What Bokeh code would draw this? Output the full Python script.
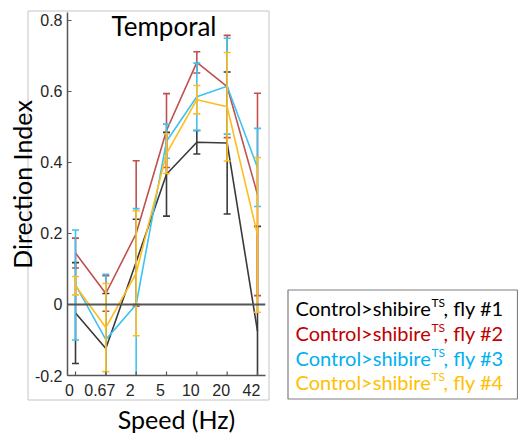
from math import pi

from bokeh.core.properties import value
from bokeh.embed import file_html
from bokeh.layouts import column
from bokeh.models import FixedTicker, GridBox, LinearAxis, Range1d, Span
from bokeh.plotting import figure
from bokeh.resources import INLINE

# Stimulus speeds (Hz), one category per tick
speeds = ["0", "0.67", "2", "5", "10", "20", "42"]

# Direction index per fly: mean and error (half-length of the bar)
fly1_mean = [-0.024, -0.124, 0.120, 0.367, 0.457, 0.455, -0.075]
fly1_err = [0.142, 0.155, 0.120, 0.118, 0.033, 0.200, 0.295]
fly2_mean = [0.145, 0.031, 0.200, 0.490, 0.682, 0.614, 0.310]
fly2_err = [0.042, 0.050, 0.205, 0.104, 0.030, 0.144, 0.285]
fly3_mean = [0.055, -0.099, 0.000, 0.460, 0.585, 0.615, 0.386]
fly3_err = [0.155, 0.184, 0.270, 0.048, 0.095, 0.135, 0.110]
fly4_mean = [0.053, -0.065, 0.088, 0.425, 0.577, 0.557, 0.196]
fly4_err = [0.026, 0.124, 0.176, 0.056, 0.040, 0.153, 0.218]

legend_main = ["Control>shibire"] * 4
legend_sup = ["TS"] * 4
legend_suffix = [", fly #1", ", fly #2", ", fly #3", ", fly #4"]

y_ticks = [-0.2, 0, 0.2, 0.4, 0.6, 0.8]
y_tick_labels = ["-0.2", "0", "0.2", "0.4", "0.6", "0.8"]

line_colors = ["#3a3a3a", "#c0504d", "#3ec3f0", "#ffbc1f"]
text_colors = ["#000000", "#c00000", "#00b0f0", "#ffc000"]

W, H = 518, 434
FRAME_L, FRAME_R, FRAME_T, FRAME_B = 67, 265, 12, 375
X_LO, X_HI = -0.264, 6.264
LABEL_SHIFT = 0.198  # tick labels sit a little left of their ticks

# ---------------------------------------------------------------- background
# A full-canvas sheet in pixel units for the panel border, titles and legend.
bg = figure(
    width=W, height=H, output_backend="svg", toolbar_location=None,
    x_range=Range1d(0, W), y_range=Range1d(0, H),
    x_axis_location=None, y_axis_location=None,
    min_border=0, min_border_left=0, min_border_right=0,
    min_border_top=0, min_border_bottom=0,
)
bg.outline_line_color = None
bg.grid.visible = False
bg.background_fill_color = "white"
bg.border_fill_color = "white"


def py(y):
    return H - y


# panel border around the axes
bg.quad(left=[27.5], right=[268.5], top=[py(10.5)], bottom=[py(399.5)],
        fill_color=None, line_color="#c4c4c4", line_width=1)

bg.text(x=[163.5], y=[py(25)], text=["Temporal"], text_align="center",
        text_baseline="middle", text_font=value("Lato"),
        text_font_size=value("26px"), text_color="black")
bg.text(x=[176], y=[py(418)], text=["Speed (Hz)"], text_align="center",
        text_baseline="middle", text_font=value("Lato"),
        text_font_size=value("25px"), text_color="black")
bg.text(x=[21], y=[py(184)], text=["Direction Index"], angle=pi / 2,
        text_align="center", text_baseline="middle", text_font=value("Lato"),
        text_font_size=value("25px"), text_color="black")

# legend
bg.quad(left=[287.5], right=[517], top=[py(289.5)], bottom=[py(398.5)],
        fill_color=None, line_color="#7f7f7f", line_width=1.2)
row_y = [307, 332, 357, 381]
main_x, sup_x, suf_x = 295, 431, 443
bg.text(x=[main_x] * 4, y=[py(v) for v in row_y], text=legend_main,
        text_color=text_colors, text_align="left", text_baseline="middle",
        text_font=value("Lato"), text_font_size=value("20px"))
bg.text(x=[sup_x] * 4, y=[py(v - 5) for v in row_y], text=legend_sup,
        text_color=text_colors, text_align="left", text_baseline="middle",
        text_font=value("Lato"), text_font_size=value("12px"))
bg.text(x=[suf_x] * 4, y=[py(v) for v in row_y], text=legend_suffix,
        text_color=text_colors, text_align="left", text_baseline="middle",
        text_font=value("Lato"), text_font_size=value("20px"))

# ---------------------------------------------------------------- chart
p = figure(
    width=W, height=H, output_backend="svg", toolbar_location=None,
    x_range=Range1d(X_LO, X_HI), y_range=Range1d(-0.2, 0.8225),
    x_axis_location=None,
    min_border_left=FRAME_L, min_border_right=W - FRAME_R,
    min_border_top=FRAME_T, min_border_bottom=H - FRAME_B,
)
p.outline_line_color = None
p.grid.visible = False
p.background_fill_color = None
p.border_fill_color = None
p.extra_x_ranges = {"labels": Range1d(X_LO + LABEL_SHIFT, X_HI + LABEL_SHIFT)}

xs = list(range(len(speeds)))
series = [
    (fly1_mean, fly1_err),
    (fly2_mean, fly2_err),
    (fly3_mean, fly3_err),
    (fly4_mean, fly4_err),
]
for (means, errs), col in zip(series, line_colors):
    lo = [m - e for m, e in zip(means, errs)]
    hi = [m + e for m, e in zip(means, errs)]
    p.line(xs, means, line_color=col, line_width=1.6)
    p.segment(x0=xs, y0=lo, x1=xs, y1=hi, line_color=col, line_width=1.6)
    p.scatter(xs, lo, marker="dash", size=7, line_color=col, line_width=1.6)
    p.scatter(xs, hi, marker="dash", size=7, line_color=col, line_width=1.6)

# zero reference line
p.add_layout(Span(location=0, dimension="width", line_color="#555555", line_width=2))

axis_col = "#555555"

# x axis: line and labels; the inward ticks are drawn at the category positions
xax = LinearAxis(x_range_name="labels", ticker=FixedTicker(ticks=xs),
                 major_label_overrides={i: s for i, s in enumerate(speeds)})
xax.axis_line_color = axis_col
xax.axis_line_width = 1.5
xax.major_tick_line_color = None
xax.minor_tick_line_color = None
xax.major_tick_in = 0
xax.major_tick_out = 0
xax.major_label_standoff = 8
xax.major_label_text_font = "Liberation Sans"
xax.major_label_text_font_size = "16px"
xax.major_label_text_color = "#262626"
p.add_layout(xax, "below")
p.scatter(xs, [-0.2] * len(xs), marker="dash", angle=pi / 2, size=8,
          line_color=axis_col, line_width=1.2)

yax = p.yaxis[0]
yax.ticker = FixedTicker(ticks=y_ticks)
yax.major_label_overrides = {t: s for t, s in zip(y_ticks, y_tick_labels)}
yax.axis_line_color = axis_col
yax.axis_line_width = 1.5
yax.major_tick_line_color = axis_col
yax.major_tick_line_width = 1.2
yax.major_tick_in = 4
yax.major_tick_out = 0
yax.minor_tick_line_color = None
yax.major_label_text_font = "Liberation Sans"
yax.major_label_text_font_size = "16px"
yax.major_label_text_color = "#262626"
yax.major_label_standoff = 5

# both sheets share one grid cell, the chart lying over the background;
# each is wrapped so the grid does not line up their plotting frames
layout = GridBox(children=[(column(bg), 0, 0), (column(p), 0, 0)])

open("out.html", "w").write(file_html(layout, INLINE))
